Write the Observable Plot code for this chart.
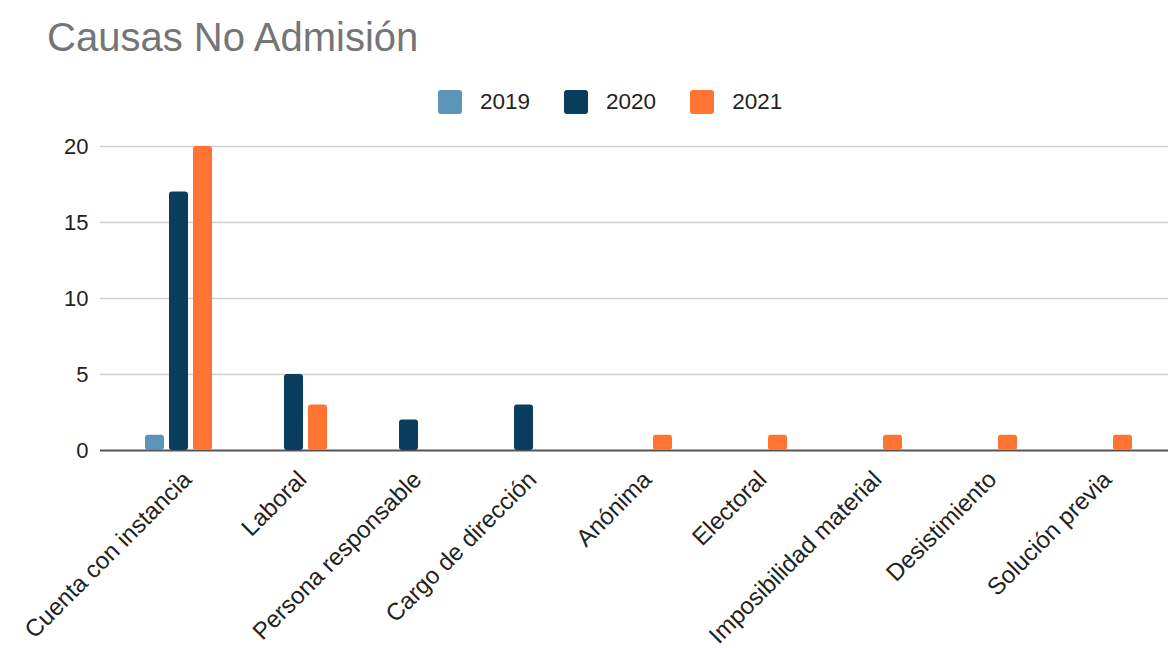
<!DOCTYPE html>
<html>
<head>
<meta charset="utf-8">
<script src="https://cdn.jsdelivr.net/npm/d3@7"></script>
<script src="https://cdn.jsdelivr.net/npm/@observablehq/plot@0.6"></script>
<style>
  html, body { margin: 0; padding: 0; background: #fff; overflow: hidden; width: 1168px; height: 648px; }
  body { position: relative; font-family: "Liberation Sans", Arial, sans-serif; }
  #title { position: absolute; left: 47px; top: 17px; font-size: 40px; line-height: 40px; color: #757575; white-space: nowrap; }
  #legend { position: absolute; left: 438px; top: 90px; height: 24px; display: flex; align-items: center; font-size: 22.5px; color: #222; }
  .item { display: flex; align-items: center; margin-right: 34px; }
  .sw { width: 24px; height: 24px; border-radius: 3px; margin-right: 18px; }
  .layer { position: absolute; left: 0; top: 125px; }
  .layer svg { max-width: none !important; }
</style>
</head>
<body>
<div id="title">Causas No Admisión</div>
<div id="legend"></div>
<div id="back" class="layer"></div>
<div id="front" class="layer"></div>
<script>
const categories = ["Cuenta con instancia", "Laboral", "Persona responsable", "Cargo de dirección", "Anónima", "Electoral", "Imposibilidad material", "Desistimiento", "Solución previa"];
const years = ["2019", "2020", "2021"];
const values2019 = [1, 0, 0, 0, 0, 0, 0, 0, 0];
const values2020 = [17, 5, 2, 3, 0, 0, 0, 0, 0];
const values2021 = [20, 3, 0, 0, 1, 1, 1, 1, 1];
const yTicks = [0, 5, 10, 15, 20];
const colors = ["#5b94b9", "#0b3e5e", "#ff7333"];

const series = [values2019, values2020, values2021];
const rows = [];
categories.forEach((c, i) => {
  years.forEach((yr, j) => {
    const v = series[j][i];
    if (v > 0) rows.push({category: c, year: yr, value: v});
  });
});

// legend
const legend = document.getElementById("legend");
years.forEach((yr, j) => {
  const it = document.createElement("div");
  it.className = "item";
  const sw = document.createElement("div");
  sw.className = "sw";
  sw.style.background = colors[j];
  const lb = document.createElement("span");
  lb.textContent = yr;
  it.appendChild(sw);
  it.appendChild(lb);
  legend.appendChild(it);
});

const dims = {width: 1177, height: 523, marginLeft: 100, marginRight: 0, marginTop: 21, marginBottom: 198};
const font = {fontFamily: "'Liberation Sans', Arial, sans-serif", fontSize: "22px", color: "#222", background: "transparent", overflow: "visible"};

// background layer: grid, y axis, baseline
const back = Plot.plot({
  ...dims,
  style: font,
  y: {domain: [0, 20], label: null},
  marks: [
    Plot.ruleY(yTicks.slice(1), {stroke: "#cfcfcf", strokeWidth: 1.5}),
    Plot.axisY(yTicks, {tickSize: 0, tickPadding: 12, label: null, fontSize: 22, fill: "#222"}),
    Plot.ruleY([0], {stroke: "#555", strokeWidth: 2})
  ]
});
document.getElementById("back").appendChild(back);

// front layer: grouped bars and category labels
const front = Plot.plot({
  ...dims,
  style: font,
  fx: {domain: categories, paddingInner: 0.357, paddingOuter: 0.357, label: null},
  x: {domain: years, paddingInner: 0.2, paddingOuter: 0.1, axis: null},
  y: {domain: [0, 20], label: null, axis: null},
  color: {domain: years, range: colors},
  marks: [
    Plot.barY(rows, {fx: "category", x: "year", y: "value", fill: "year", rx: 3}),
    Plot.axisFx({anchor: "bottom", tickRotate: -45, tickSize: 0, tickPadding: 25, dx: 8, label: null, fontSize: 24, fill: "#222"})
  ]
});
document.getElementById("front").appendChild(front);
</script>
</body>
</html>
